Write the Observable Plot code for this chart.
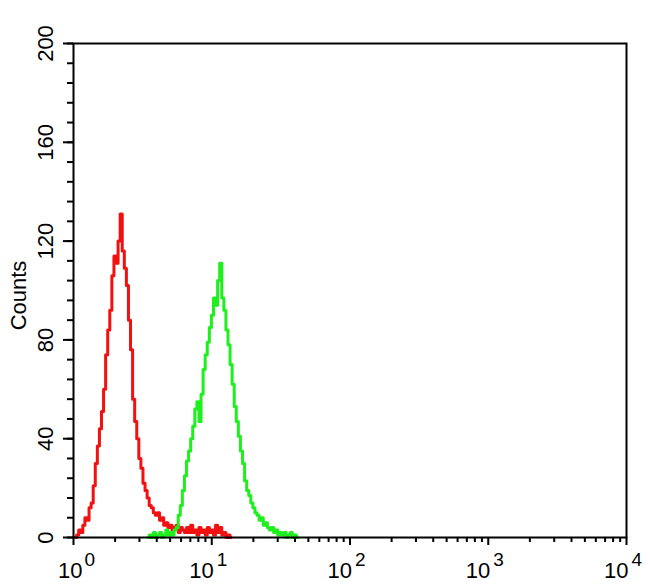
<!DOCTYPE html>
<html>
<head>
<meta charset="utf-8">
<script src="https://cdn.jsdelivr.net/npm/d3@7"></script>
<script src="https://cdn.jsdelivr.net/npm/@observablehq/plot@0.6"></script>
<style>
  html, body { margin: 0; padding: 0; background: #fff; }
  #chart svg { display: block; }
</style>
</head>
<body>
<div id="chart"></div>
<script>
// Histogram bins: log10 fluorescence positions start + i*step
const binStep = 0.015;
const redStart = 0.0;
const greenStart = 0.54;

// Counts per bin
const redCounts = [
  0, 0, 1, 3, 2, 5, 8, 7, 12, 14,
  21, 30, 37, 44, 51, 60, 74, 84, 92, 106,
  114, 111, 120, 131, 116, 109, 102, 88, 76, 56,
  47, 40, 32, 28, 22, 19, 16, 13, 12, 10,
  9, 10, 7, 8, 5, 6, 4, 5, 3, 4,
  5, 2, 4, 3, 2, 4, 2, 5, 2, 3,
  1, 4, 2, 3, 1, 4, 2, 3, 1, 5,
  2, 4, 1, 2, 0, 1, 0
];
const greenCounts = [
  0, 1, 0, 2, 0, 1, 2, 0, 1, 3,
  1, 2, 1, 3, 4, 9, 13, 19, 25, 31,
  35, 40, 45, 52, 55, 47, 58, 68, 74, 79,
  85, 90, 97, 94, 104, 111, 97, 92, 84, 78,
  70, 62, 53, 47, 41, 35, 30, 23, 19, 17,
  14, 12, 10, 9, 7, 8, 5, 6, 4, 3,
  4, 2, 3, 1, 2, 1, 2, 0, 1, 2,
  0, 1, 0
];

// Axis ticks and labels
const xMajorTicks = [1, 10, 100, 1000, 10000];
const xExponents = ["0", "1", "2", "3", "4"];
const xMinorTicks = [
  2, 3, 4, 5, 6, 7, 8, 9,
  20, 30, 40, 50, 60, 70, 80, 90,
  200, 300, 400, 500, 600, 700, 800, 900,
  2000, 3000, 4000, 5000, 6000, 7000, 8000, 9000
];
const yMajorTicks = [0, 40, 80, 120, 160, 200];
const yMinorTicks = [0, 8, 16, 24, 32, 40, 48, 56, 64, 72, 80, 88, 96, 104, 112, 120, 128, 136, 144, 152, 160, 168, 176, 184, 192, 200];
const yTitle = "Counts";

const red = redCounts.map((c, i) => ({x: Math.pow(10, redStart + i * binStep), y: c}));
const green = greenCounts.map((c, i) => ({x: Math.pow(10, greenStart + i * binStep), y: c}));

const font = "Liberation Sans, Arial, Helvetica, sans-serif";

const plot = Plot.plot({
  width: 650,
  height: 585,
  marginLeft: 73,
  marginRight: 24,
  marginTop: 43,
  marginBottom: 48,
  style: {fontFamily: font, background: "#fff", color: "#000"},
  x: {type: "log", domain: [1, 10000]},
  y: {domain: [0, 200]},
  marks: [
    Plot.line(red, {x: "x", y: "y", stroke: "#f21010", strokeWidth: 3, curve: "step"}),
    Plot.line(green, {x: "x", y: "y", stroke: "#1ef01e", strokeWidth: 3, curve: "step"}),
    Plot.frame({stroke: "#000", strokeWidth: 2}),
    Plot.axisX({ticks: xMajorTicks, tickSize: 8, strokeWidth: 2, tickFormat: () => "", label: null}),
    Plot.axisX({ticks: xMinorTicks, tickSize: 5, strokeWidth: 2, tickFormat: () => "", label: null}),
    Plot.axisY({ticks: yMajorTicks, tickSize: 10, strokeWidth: 2, tickFormat: () => "", label: null}),
    Plot.axisY({ticks: yMinorTicks, tickSize: 6, strokeWidth: 2, tickFormat: () => "", label: null}),
    // y tick labels, rotated
    Plot.text(yMajorTicks, {y: d => d, text: d => String(d), frameAnchor: "left", dx: -21, rotate: -90,
      textAnchor: "middle", lineAnchor: "bottom", fontSize: 22, fill: "#000"}),
    // y title
    Plot.text([yTitle], {text: d => d, frameAnchor: "left", dx: -48, dy: 5, rotate: -90,
      textAnchor: "middle", lineAnchor: "bottom", fontSize: 22, fill: "#000"}),
    // x labels: base "10" and superscript exponent
    Plot.text(xMajorTicks.slice(0, 1), {x: d => d, text: () => "10", frameAnchor: "bottom", dx: 9, dy: 40,
      textAnchor: "end", lineAnchor: "bottom", fontSize: 22, fill: "#000"}),
    Plot.text(xMajorTicks.slice(0, 1), {x: d => d, text: (d, i) => xExponents[i], frameAnchor: "bottom", dx: 11, dy: 28,
      textAnchor: "start", lineAnchor: "bottom", fontSize: 19, fill: "#000"}),
    Plot.text(xMajorTicks.slice(1), {x: d => d, text: () => "10", frameAnchor: "bottom", dx: 2, dy: 40,
      textAnchor: "end", lineAnchor: "bottom", fontSize: 22, fill: "#000"}),
    Plot.text(xMajorTicks.slice(1), {x: d => d, text: (d, i) => xExponents[i + 1], frameAnchor: "bottom", dx: 5, dy: 28,
      textAnchor: "start", lineAnchor: "bottom", fontSize: 19, fill: "#000"})
  ]
});

document.getElementById("chart").appendChild(plot);
</script>
</body>
</html>
